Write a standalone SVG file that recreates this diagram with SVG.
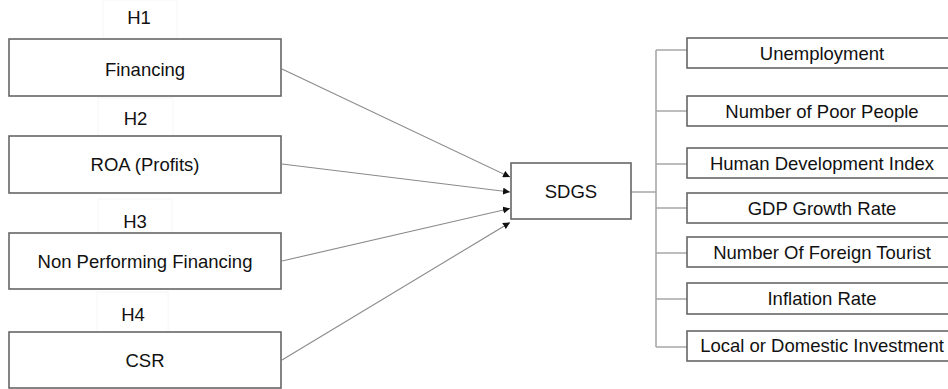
<svg xmlns="http://www.w3.org/2000/svg" width="948" height="389" viewBox="0 0 948 389">
<style>
text{font-family:"Liberation Sans",Arial,sans-serif;font-size:18.5px;fill:#111;text-anchor:middle}
.box{fill:#fff;stroke:#666;stroke-width:1.6}
.faint{fill:none;stroke:#f6f6f6;stroke-width:1}
.arrow{stroke:#8a8a8a;stroke-width:1.1;fill:none;marker-end:url(#ah)}
.tree{stroke:#a8a8a8;stroke-width:1.6;fill:none}
</style>
<defs>
<marker id="ah" viewBox="0 0 10 10" refX="10" refY="5" markerWidth="7" markerHeight="7" markerUnits="userSpaceOnUse" orient="auto">
<path d="M0,0 L10,5 L0,10 z" fill="#111"/>
</marker>
</defs>
<rect width="948" height="389" fill="#fff"/>
<g id="hlabels">
<rect class="faint" x="103" y="0" width="74" height="39"/>
<rect class="faint" x="98" y="98" width="75" height="38"/>
<rect class="faint" x="98" y="199" width="74" height="34"/>
<rect class="faint" x="97" y="292" width="71" height="40"/>
<text x="139" y="24">H1</text>
<text x="135.5" y="125">H2</text>
<text x="135" y="228">H3</text>
<text x="133" y="321">H4</text>
</g>
<g id="connectors">
<line class="arrow" x1="282" y1="69" x2="510" y2="177"/>
<line class="arrow" x1="282" y1="164" x2="510" y2="192"/>
<line class="arrow" x1="282" y1="261" x2="510" y2="208.5"/>
<line class="arrow" x1="282" y1="360" x2="510" y2="222.5"/>
<path class="tree" d="M631,192 H656 M656,50 V347 M656,50 H687 M656,111 H687 M656,164 H687 M656,208 H687 M656,253 H687 M656,299 H687 M656,347 H687"/>
</g>
<g id="financing"><rect class="box" x="9" y="39" width="272" height="57"/><text x="145" y="76">Financing</text></g>
<g id="roa"><rect class="box" x="9" y="136" width="272" height="57"/><text x="145" y="171">ROA (Profits)</text></g>
<g id="npf"><rect class="box" x="9" y="233" width="272" height="56"/><text x="145" y="268">Non Performing Financing</text></g>
<g id="csr"><rect class="box" x="9" y="332" width="272" height="56"/><text x="145" y="367">CSR</text></g>
<g id="sdgs"><rect class="box" x="511" y="163" width="120" height="56"/><text x="571" y="198">SDGS</text></g>
<g id="unemployment"><rect class="box" x="687" y="38" width="272" height="30"/><text x="822" y="60">Unemployment</text></g>
<g id="poor"><rect class="box" x="687" y="96" width="272" height="30"/><text x="822" y="118">Number of Poor People</text></g>
<g id="hdi"><rect class="box" x="687" y="148" width="272" height="30"/><text x="822" y="170">Human Development Index</text></g>
<g id="gdp"><rect class="box" x="687" y="193" width="272" height="30"/><text x="822" y="215">GDP Growth Rate</text></g>
<g id="tourist"><rect class="box" x="687" y="237" width="272" height="30"/><text x="822" y="259">Number Of Foreign Tourist</text></g>
<g id="inflation"><rect class="box" x="687" y="283" width="272" height="31"/><text x="822" y="305">Inflation Rate</text></g>
<g id="investment"><rect class="box" x="687" y="331" width="272" height="30"/><text x="822" y="352">Local or Domestic Investment</text></g>
</svg>
